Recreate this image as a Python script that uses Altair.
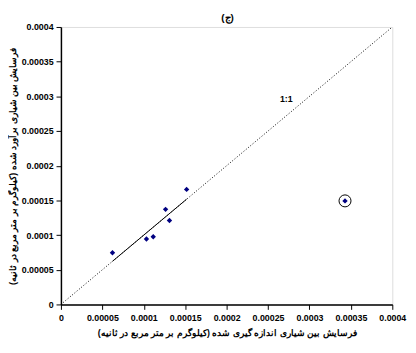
import altair as alt
import pandas as pd

measured = [0.0000622, 0.0001032, 0.0001114, 0.0001263, 0.000131, 0.0001517, 0.0003429]
estimated = [0.0000745, 0.0000943, 0.0000976, 0.0001371, 0.000121, 0.0001658, 0.0001493]
outlier_x = [0.0003429]
outlier_y = [0.0001493]
one_line = [0.0, 0.0004]
fit_line = [0.0000622, 0.0001517]
ticks = [0, 0.00005, 0.0001, 0.00015, 0.0002, 0.00025, 0.0003, 0.00035, 0.0004]

df = pd.DataFrame({"x": measured, "y": estimated})
out = pd.DataFrame({"x": outlier_x, "y": outlier_y})
ln = pd.DataFrame({"x": one_line, "y": one_line})
fit = pd.DataFrame({"x": fit_line, "y": fit_line})
lab = pd.DataFrame({"x": [0.000272], "y": [0.000296], "t": ["1:1"]})
ttl = pd.DataFrame({"t": ["(ج)"]})

FONT = "Liberation Sans"
xs = alt.Scale(domain=[0, 0.0004], nice=False, zero=False)
ys = alt.Scale(domain=[0, 0.0004], nice=False, zero=False)

xaxis = alt.Axis(values=ticks, format=".5~f", title="فرسایش بین شیاری اندازه گیری شده (کیلوگرم بر متر مربع در ثانیه)",
                 labelPadding=4, titlePadding=7)
yaxis = alt.Axis(values=ticks, format=".5~f", title="فرسایش بین شیاری برآورد شده (کیلوگرم بر متر مربع در ثانیه)",
                 labelPadding=3, titlePadding=4, labelOverlap=False, labelSeparation=0)

base_line = alt.Chart(ln).mark_line(color="black", strokeDash=[1, 2], strokeWidth=1).encode(
    x=alt.X("x:Q", scale=xs, axis=xaxis),
    y=alt.Y("y:Q", scale=ys, axis=yaxis),
)
fit_l = alt.Chart(fit).mark_line(color="black", strokeWidth=1).encode(
    x=alt.X("x:Q", scale=xs, axis=xaxis), y=alt.Y("y:Q", scale=ys, axis=yaxis))
pts = alt.Chart(df).mark_point(shape="diamond", filled=True, color="#000080", size=30, opacity=1).encode(
    x=alt.X("x:Q", scale=xs, axis=xaxis), y=alt.Y("y:Q", scale=ys, axis=yaxis))
circ = alt.Chart(out).mark_point(shape="circle", filled=False, color="black", size=150, strokeWidth=1, opacity=1).encode(
    x=alt.X("x:Q", scale=xs, axis=xaxis), y=alt.Y("y:Q", scale=ys, axis=yaxis))
txt = alt.Chart(lab).mark_text(font=FONT, fontWeight="bold", fontSize=9, color="black").encode(
    x=alt.X("x:Q", scale=xs, axis=xaxis), y=alt.Y("y:Q", scale=ys, axis=yaxis), text="t:N")
title = alt.Chart(ttl).mark_text(font=FONT, fontWeight="bold", fontSize=10, color="black", baseline="bottom").encode(
    x=alt.value(170), y=alt.value(-4), text="t:N")

chart = alt.layer(base_line, fit_l, pts, circ, txt, title).properties(
    width=338, height=283,
    autosize=alt.AutoSizeParams(type="none"),
    padding={"left": 54, "top": 16, "right": 16, "bottom": 38},
).configure_view(stroke="black", strokeWidth=1.5).configure(background="white").configure_axis(
    grid=False, labelOverlap=False, labelFlush=False, labelBound=False,
    labelFont=FONT, labelFontWeight="bold", labelFontSize=9, labelColor="black",
    titleFont=FONT, titleFontWeight="bold", titleFontSize=9, titleColor="black",
    tickColor="black", domainColor="black", domainWidth=1.5, tickSize=5,
)

chart.save("out.html", embed_options={"renderer": "svg", "actions": False})
